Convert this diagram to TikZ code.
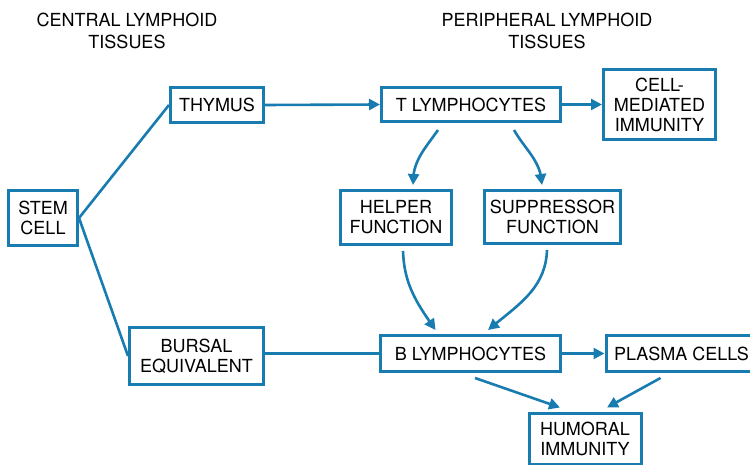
\documentclass[tikz,border=0pt]{standalone}
\usepackage{fontspec}
\setmainfont{TeX Gyre Heros}
\usetikzlibrary{arrows.meta,bending,calc}
\definecolor{cellblue}{RGB}{24,124,176}

\begin{document}
\begin{tikzpicture}
  [x=1pt,y=1pt,
   cellbox/.style={
     draw=cellblue,
     line width=3pt,
     align=center,
     inner sep=0pt,
     font=\fontsize{18}{20}\selectfont
     },
   tissuetitle/.style={align=center, font=\fontsize{18}{22}\selectfont},
   link/.style={draw=cellblue, line width=2.6pt},
   flow/.style={link, -{Triangle[length=11pt,width=11pt,flex]}}
  ]
  \useasboundingbox (0,0) rectangle (750,464);

  % titoli
  \node[tissuetitle] (centraltitle) at (127,433) {CENTRAL LYMPHOID\\TISSUES};
  \node[tissuetitle] (peripheraltitle) at (547,433) {PERIPHERAL LYMPHOID\\TISSUES};

  % organi centrali
  \node[cellbox, minimum width=69pt, minimum height=55pt] (stemcell) at (43,246) {STEM\\CELL};
  \node[cellbox, minimum width=93pt, minimum height=35pt] (thymus) at (217,359) {THYMUS};
  \node[cellbox, minimum width=134pt, minimum height=57pt] (bursal) at (196.5,108) {BURSAL\\EQUIVALENT};

  % tessuti periferici
  \node[cellbox, minimum width=179pt, minimum height=34pt] (tlymph) at (471,359.5) {T LYMPHOCYTES};
  \node[cellbox, minimum width=112pt, minimum height=70pt] (cellmed) at (659.5,359.5) {CELL-\\MEDIATED\\IMMUNITY};
  \node[cellbox, minimum width=111pt, minimum height=54pt] (helper) at (396,246.5) {HELPER\\FUNCTION};
  \node[cellbox, minimum width=136pt, minimum height=53pt] (suppressor) at (552.5,247) {SUPPRESSOR\\FUNCTION};
  \node[cellbox, minimum width=180pt, minimum height=36pt] (blymph) at (470.5,110.5) {B LYMPHOCYTES};
  \node[cellbox, anchor=west, inner xsep=8pt, minimum height=36pt] (plasma) at (604.5,110.5) {PLASMA CELLS};
  \node[cellbox, minimum width=112pt, minimum height=51pt] (humoral) at (585,25.5) {HUMORAL\\IMMUNITY};

  % collegamenti
  \draw[link] (stemcell.east) -- (thymus.west);
  \draw[link] (stemcell.east) -- (bursal.west);
  \draw[flow] (thymus.east) -- (tlymph.west);
  \draw[flow] (tlymph.east) -- (cellmed.west);
  \draw[link] (bursal.east |- blymph.west) -- (blymph.west);
  \draw[flow] (blymph.east) -- (plasma.west);

  \draw[flow] ($(tlymph.south)+(-33,-7)$) to[out=-125,in=92] ($(helper.north)+(17,4)$);
  \draw[flow] ($(tlymph.south)+(43,-7)$) to[out=-60,in=92] ($(suppressor.north)+(-10.5,4)$);
  \draw[flow] ($(helper.south)+(7,-5)$) to[out=-88,in=125] ($(blymph.north)+(-35,4)$);
  \draw[flow] ($(suppressor.south)+(-5.5,-5)$) to[out=-92,in=40] ($(blymph.north)+(17.5,4)$);

  \draw[flow] ($(blymph.south)+(4.5,-5)$) -- ($(humoral.north)+(-25,4)$);
  \draw[flow] ($(plasma.south)+(-21,-5)$) -- ($(humoral.north)+(22,4)$);
\end{tikzpicture}
\end{document}
